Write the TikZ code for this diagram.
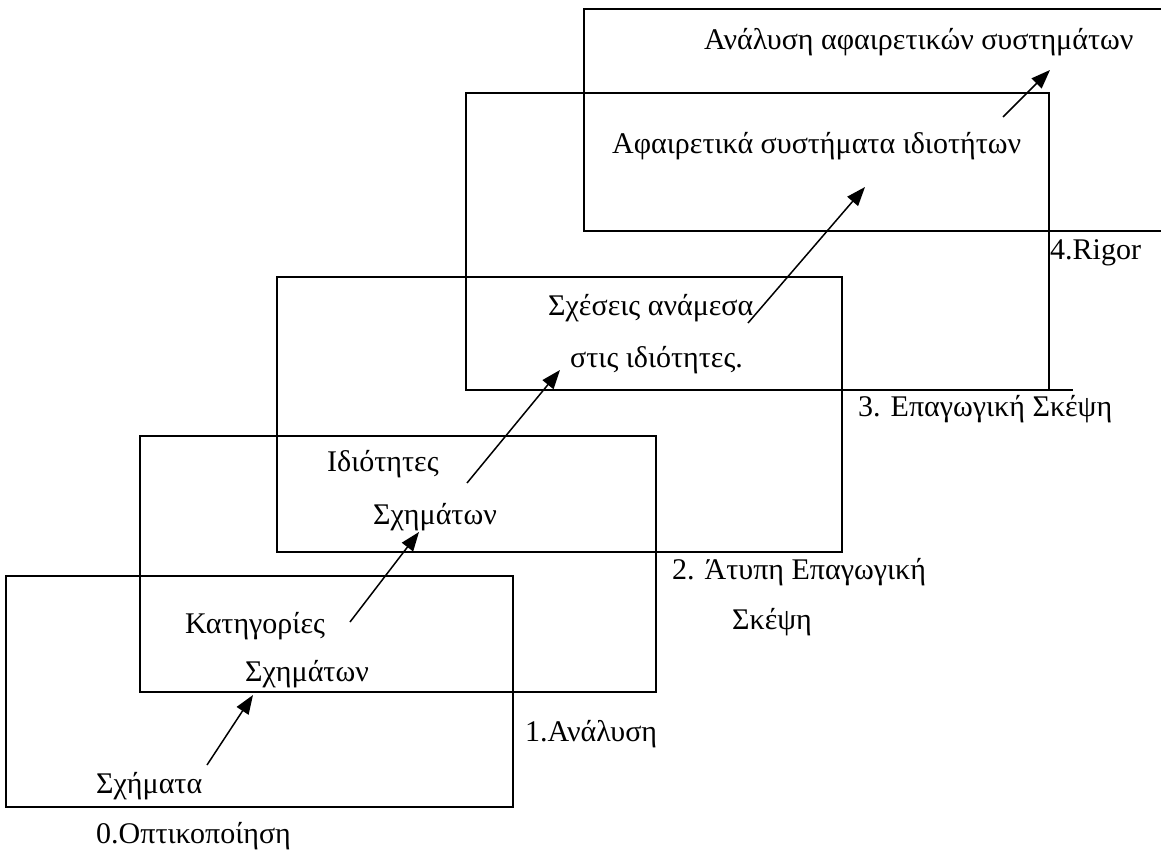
\documentclass[tikz,border=0pt]{standalone}
\usepackage{fontspec}
\setmainfont{Liberation Serif}
\usepackage{tikz}
\usetikzlibrary{arrows.meta}

\begin{document}
\begin{tikzpicture}[
      x=1pt, y=-1pt,
      lvl/.style={draw, line width=1.5pt},
      lbl/.style={anchor=west, inner sep=0pt, yshift=-4pt, font=\fontsize{30}{35}\selectfont, text height=0.68em, text depth=0.22em},
      arr/.style={line width=1.5pt, -{Triangle[length=19pt,width=14pt]}}
    ]
    \useasboundingbox (0,0) rectangle (1161,856);
    \clip (0,0) rectangle (1161,856);
    % Levels
    \draw[lvl] (6,576) rectangle (513,807);
    \draw[lvl] (140,436) rectangle (656,692);
    \draw[lvl] (277,277) rectangle (842,552);
    \draw[lvl] (466,93) rectangle (1049,390);
    \draw[lvl] (1049,390) -- (1073,390);
    \draw[lvl] (584,9) rectangle (1170,231);

    % Nodes
    \node[lbl] (abssys) at (704,43) {Ανάλυση αφαιρετικών συστημάτων};
    \node[lbl] (propsys) at (612,147) {Αφαιρετικά συστήματα ιδιοτήτων};
    \node[lbl] (rigor) at (1050,253) {4.Rigor};
    \node[lbl] (rel1) at (548,309) {Σχέσεις ανάμεσα};
    \node[lbl] (rel2) at (570,361) {στις ιδιότητες.};
    \node[lbl] (deduct) at (858,410) {3. Επαγωγική Σκέψη};
    \node[lbl] (prop1) at (327,465) {Ιδιότητες};
    \node[lbl] (prop2) at (373,518) {Σχημάτων};
    \node[lbl] (informal1) at (672,573) {2. Άτυπη Επαγωγική};
    \node[lbl] (informal2) at (732,623) {Σκέψη};
    \node[lbl] (cat1) at (185,627) {Κατηγορίες};
    \node[lbl] (cat2) at (245,675) {Σχημάτων};
    \node[lbl] (analysis) at (525,735) {1.Ανάλυση};
    \node[lbl] (shapes) at (96,787) {Σχήματα};
    \node[lbl] (visual) at (96,837) {0.Οπτικοποίηση};

    % Arrow ends
    \coordinate (a0) at (207,765);
    \coordinate (b0) at (253,695);
    \coordinate (a1) at (350,622);
    \coordinate (b1) at (419,532);
    \coordinate (a2) at (467,483);
    \coordinate (b2) at (560,370);
    \coordinate (a3) at (748,323);
    \coordinate (b3) at (865,187);
    \coordinate (a4) at (1003,117);
    \coordinate (b4) at (1050,70);

    % Edges
    \draw[arr] (a0) -- (b0);
    \draw[arr] (a1) -- (b1);
    \draw[arr] (a2) -- (b2);
    \draw[arr] (a3) -- (b3);
    \draw[arr] (a4) -- (b4);
  \end{tikzpicture}
\end{document}
